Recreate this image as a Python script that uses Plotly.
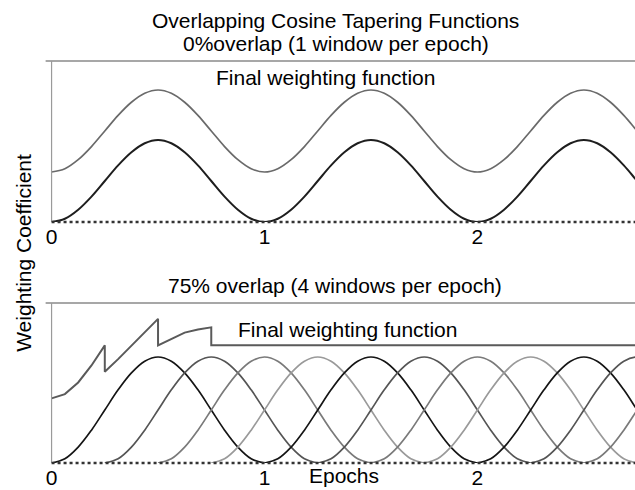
import plotly.graph_objects as go

# ---------------- data ----------------
# one cosine taper (Hann window) sampled every 1/16 of its length
WIN_X = [0, 0.0625, 0.125, 0.1875, 0.25, 0.3125, 0.375, 0.4375, 0.5,
         0.5625, 0.625, 0.6875, 0.75, 0.8125, 0.875, 0.9375, 1.0]
WIN_Y = [0, 0.04, 0.15, 0.31, 0.5, 0.69, 0.85, 0.96, 1.0,
         0.96, 0.85, 0.69, 0.5, 0.31, 0.15, 0.04, 0]

# window start times (epochs)
TOP_STARTS = [0, 1, 2]                      # 0% overlap
BOTTOM_STARTS = [0, 0.25, 0.5, 0.75, 1.0, 1.25, 1.5, 1.75, 2.0, 2.25, 2.5]  # 75% overlap

# final weighting function, 75% overlap (normalised sum of active windows)
FINAL_X = [0, 0.0625, 0.125, 0.1875, 0.25, 0.25, 0.3125, 0.375, 0.4375, 0.5,
           0.5, 0.5625, 0.625, 0.6875, 0.75, 0.75, 2.8]
FINAL_Y = [0, 0.04, 0.15, 0.31, 0.5, 0.25, 0.37, 0.5, 0.63, 0.75,
           0.5, 0.56, 0.62, 0.65, 0.67, 0.5, 0.5]

FINAL_OFFSET = 0.61       # display offset of the final weighting curve

TICK_VALS = [0, 1, 2]
TICK_TEXT = ["0", "1", "2"]

TITLE_1 = "Overlapping Cosine Tapering Functions"
TITLE_2 = "0%overlap (1 window per epoch)"
SUBTITLE_2 = "75% overlap (4 windows per epoch)"
FINAL_LABEL = "Final weighting function"
X_LABEL = "Epochs"
Y_LABEL = "Weighting Coefficient"

# ---------------- layout geometry ----------------
W, H = 635, 490
FONT = "Liberation Sans, Arial, Helvetica, sans-serif"
FS = 21
X0 = 46 / W
def py(pix):
    return 1 - pix / H

TOP_T, TOP_B = 61, 222
BOT_T, BOT_B = 303, 463
TOP_RANGE = (TOP_B - TOP_T) / 82.0
BOT_RANGE = (BOT_B - BOT_T) / 106.0

fig = go.Figure()

# ---- top panel: windows concatenated ----
top_x, top_y = [], []
for i, s in enumerate(TOP_STARTS):
    xs = [s + v for v in WIN_X]
    ys = list(WIN_Y)
    if i > 0:
        xs, ys = xs[1:], ys[1:]
    top_x += xs
    top_y += ys

fig.add_trace(go.Scatter(x=top_x, y=[v + FINAL_OFFSET for v in top_y], mode="lines",
                         line=dict(color="#6a6a6a", width=1.7, shape="spline"),
                         xaxis="x", yaxis="y", showlegend=False, hoverinfo="skip"))
fig.add_trace(go.Scatter(x=top_x, y=top_y, mode="lines",
                         line=dict(color="#1e1e1e", width=2, shape="spline"),
                         xaxis="x", yaxis="y", showlegend=False, hoverinfo="skip"))

# ---- bottom panel: overlapping windows ----
WIN_COLORS = ["#151515", "#555555", "#7a7a7a", "#9a9a9a"]
for k, s in enumerate(BOTTOM_STARTS):
    fig.add_trace(go.Scatter(x=[s + v for v in WIN_X], y=WIN_Y, mode="lines",
                             line=dict(color=WIN_COLORS[k % 4], width=1.7, shape="spline"),
                             xaxis="x2", yaxis="y2", showlegend=False, hoverinfo="skip"))

fig.add_trace(go.Scatter(x=FINAL_X, y=[v + FINAL_OFFSET for v in FINAL_Y], mode="lines",
                         line=dict(color="#5a5a5a", width=2),
                         xaxis="x2", yaxis="y2", showlegend=False, hoverinfo="skip"))

axis_common = dict(showgrid=False, zeroline=False, showline=False,
                   tickfont=dict(family=FONT, size=FS, color="black"),
                   ticks="", ticklen=0)

fig.update_layout(
    width=W, height=H, margin=dict(l=0, r=0, t=0, b=0),
    paper_bgcolor="white", plot_bgcolor="white",
    xaxis=dict(domain=[X0, 1], range=[0, 2.74], anchor="y",
               tickvals=TICK_VALS, ticktext=TICK_TEXT, **axis_common),
    yaxis=dict(domain=[py(TOP_B), py(TOP_T)], range=[0, TOP_RANGE], anchor="x",
               showticklabels=False, showgrid=False, zeroline=False, ticks=""),
    xaxis2=dict(domain=[X0, 1], range=[0, 2.74], anchor="y2",
                tickvals=TICK_VALS, ticktext=TICK_TEXT, **axis_common),
    yaxis2=dict(domain=[py(BOT_B), py(BOT_T)], range=[0, BOT_RANGE], anchor="x2",
                showticklabels=False, showgrid=False, zeroline=False, ticks=""),
)

shapes = []
for (t, b) in [(TOP_T, TOP_B), (BOT_T, BOT_B)]:
    shapes.append(dict(type="line", xref="paper", yref="paper", x0=40 / W, x1=1,
                       y0=py(t), y1=py(t), line=dict(color="#8a8a8a", width=1.5)))
    shapes.append(dict(type="line", xref="paper", yref="paper", x0=X0, x1=X0,
                       y0=py(t), y1=py(b), line=dict(color="#9a9a9a", width=1.2)))
    shapes.append(dict(type="line", xref="paper", yref="paper", x0=X0, x1=1,
                       y0=py(b), y1=py(b), line=dict(color="#333333", width=2.5, dash="dot")))
fig.update_layout(shapes=shapes)

def ann(text, xpix, ypix, angle=0, yanchor="middle"):
    return dict(text=text, xref="paper", yref="paper", x=xpix / W, y=py(ypix),
                xanchor="center", yanchor=yanchor, showarrow=False, textangle=angle,
                font=dict(family=FONT, size=FS, color="black"))

fig.update_layout(annotations=[
    ann(TITLE_1, 333, 20),
    ann(TITLE_2, 333, 44),
    ann(FINAL_LABEL, 323, 77),
    ann(SUBTITLE_2, 332, 285),
    ann(FINAL_LABEL, 345, 329),
    ann(X_LABEL, 341, 489, yanchor="bottom"),
    ann(Y_LABEL, 17, 253, -90),
])

fig.write_html("out.html")
